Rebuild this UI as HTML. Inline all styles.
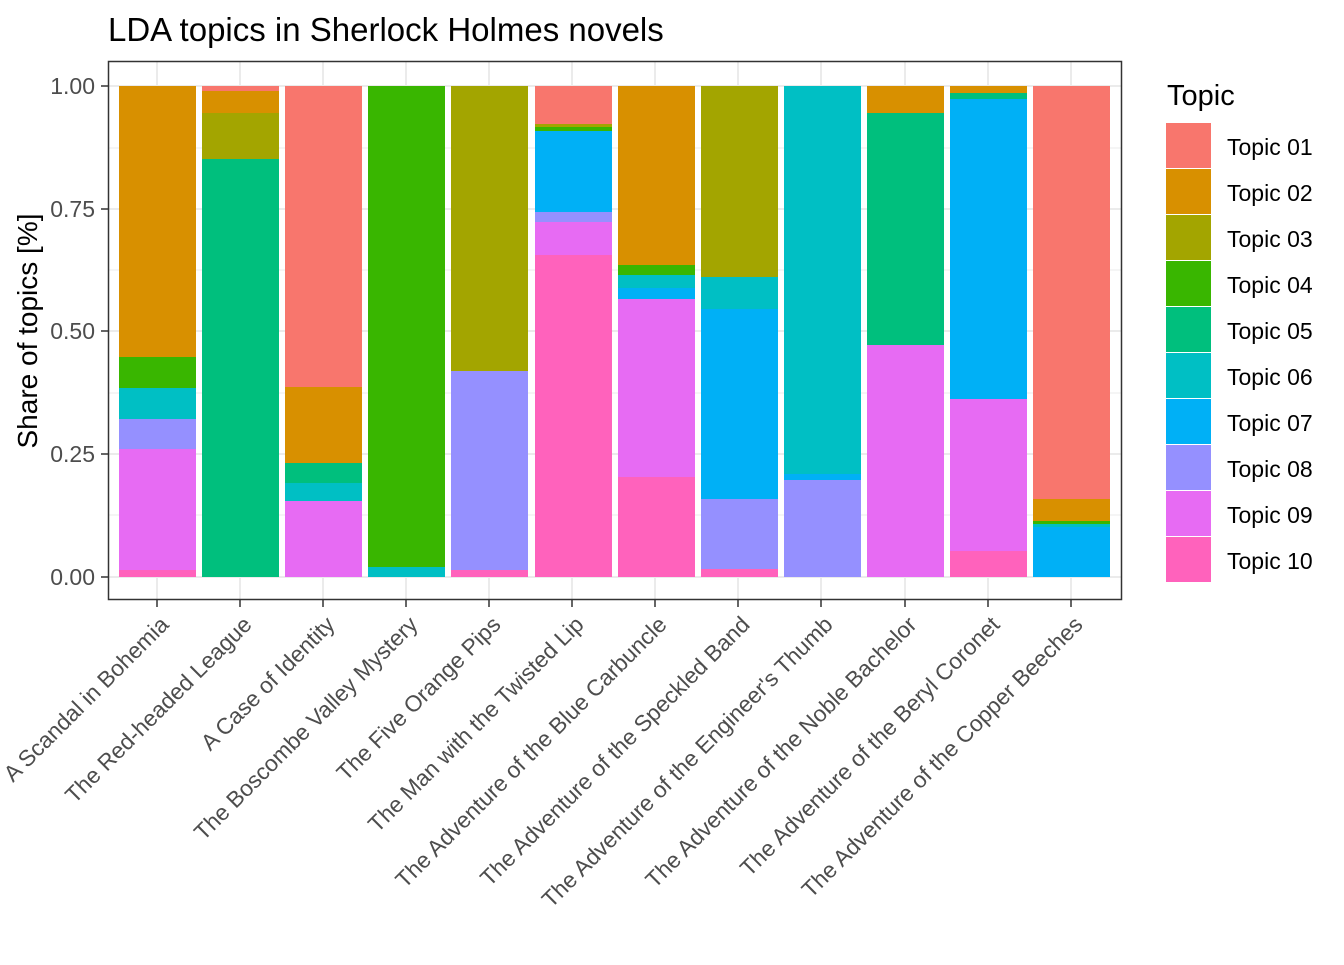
<!DOCTYPE html>
<html><head><meta charset="utf-8"><style>body{margin:0;background:#fff}</style></head><body>
<svg width="1344" height="960" xmlns="http://www.w3.org/2000/svg" font-family="Liberation Sans, Arial, sans-serif">
<rect width="1344" height="960" fill="#fff"/>
<text x="108" y="41" font-size="33" fill="#000">LDA topics in Sherlock Holmes novels</text>
<g stroke="#ebebeb" stroke-width="1">
<line x1="108" x2="1122" y1="148" y2="148"/><line x1="108" x2="1122" y1="270" y2="270"/><line x1="108" x2="1122" y1="393" y2="393"/><line x1="108" x2="1122" y1="515" y2="515"/>
</g>
<g stroke="#ebebeb" stroke-width="2">
<line x1="108" x2="1122" y1="86" y2="86"/><line x1="108" x2="1122" y1="209" y2="209"/><line x1="108" x2="1122" y1="331" y2="331"/><line x1="108" x2="1122" y1="454" y2="454"/><line x1="108" x2="1122" y1="577" y2="577"/>
<line x1="157" x2="157" y1="61" y2="600"/><line x1="240" x2="240" y1="61" y2="600"/><line x1="323" x2="323" y1="61" y2="600"/><line x1="406" x2="406" y1="61" y2="600"/><line x1="489" x2="489" y1="61" y2="600"/><line x1="572" x2="572" y1="61" y2="600"/><line x1="655" x2="655" y1="61" y2="600"/><line x1="738" x2="738" y1="61" y2="600"/><line x1="821" x2="821" y1="61" y2="600"/><line x1="905" x2="905" y1="61" y2="600"/><line x1="988" x2="988" y1="61" y2="600"/><line x1="1071" x2="1071" y1="61" y2="600"/>
</g>
<g id="bars">
<rect x="119" width="77" y="86" height="271" fill="#D89000"/><rect x="119" width="77" y="357" height="31" fill="#39B600"/><rect x="119" width="77" y="388" height="31" fill="#00BFC4"/><rect x="119" width="77" y="419" height="30" fill="#9590FF"/><rect x="119" width="77" y="449" height="121" fill="#E76BF3"/><rect x="119" width="77" y="570" height="7" fill="#FF62BC"/>
<rect x="202" width="77" y="86" height="5" fill="#F8766D"/><rect x="202" width="77" y="91" height="22" fill="#D89000"/><rect x="202" width="77" y="113" height="46" fill="#A3A500"/><rect x="202" width="77" y="159" height="418" fill="#00BF7D"/>
<rect x="285" width="77" y="86" height="301" fill="#F8766D"/><rect x="285" width="77" y="387" height="76" fill="#D89000"/><rect x="285" width="77" y="463" height="20" fill="#00BF7D"/><rect x="285" width="77" y="483" height="18" fill="#00BFC4"/><rect x="285" width="77" y="501" height="76" fill="#E76BF3"/>
<rect x="368" width="77" y="86" height="481" fill="#39B600"/><rect x="368" width="77" y="567" height="10" fill="#00BFC4"/>
<rect x="451" width="77" y="86" height="285" fill="#A3A500"/><rect x="451" width="77" y="371" height="199" fill="#9590FF"/><rect x="451" width="77" y="570" height="7" fill="#FF62BC"/>
<rect x="535" width="77" y="86" height="38" fill="#F8766D"/><rect x="535" width="77" y="124" height="3" fill="#A3A500"/><rect x="535" width="77" y="127" height="4" fill="#39B600"/><rect x="535" width="77" y="131" height="81" fill="#00B0F6"/><rect x="535" width="77" y="212" height="10" fill="#9590FF"/><rect x="535" width="77" y="222" height="33" fill="#E76BF3"/><rect x="535" width="77" y="255" height="322" fill="#FF62BC"/>
<rect x="618" width="77" y="86" height="179" fill="#D89000"/><rect x="618" width="77" y="265" height="10" fill="#39B600"/><rect x="618" width="77" y="275" height="13" fill="#00BFC4"/><rect x="618" width="77" y="288" height="11" fill="#00B0F6"/><rect x="618" width="77" y="299" height="178" fill="#E76BF3"/><rect x="618" width="77" y="477" height="100" fill="#FF62BC"/>
<rect x="701" width="77" y="86" height="191" fill="#A3A500"/><rect x="701" width="77" y="277" height="32" fill="#00BFC4"/><rect x="701" width="77" y="309" height="190" fill="#00B0F6"/><rect x="701" width="77" y="499" height="70" fill="#9590FF"/><rect x="701" width="77" y="569" height="8" fill="#FF62BC"/>
<rect x="784" width="77" y="86" height="388" fill="#00BFC4"/><rect x="784" width="77" y="474" height="6" fill="#00B0F6"/><rect x="784" width="77" y="480" height="97" fill="#9590FF"/>
<rect x="867" width="77" y="86" height="27" fill="#D89000"/><rect x="867" width="77" y="113" height="232" fill="#00BF7D"/><rect x="867" width="77" y="345" height="232" fill="#E76BF3"/>
<rect x="950" width="77" y="86" height="7" fill="#D89000"/><rect x="950" width="77" y="93" height="6" fill="#00BF7D"/><rect x="950" width="77" y="99" height="300" fill="#00B0F6"/><rect x="950" width="77" y="399" height="152" fill="#E76BF3"/><rect x="950" width="77" y="551" height="26" fill="#FF62BC"/>
<rect x="1033" width="77" y="86" height="413" fill="#F8766D"/><rect x="1033" width="77" y="499" height="22" fill="#D89000"/><rect x="1033" width="77" y="521" height="3" fill="#39B600"/><rect x="1033" width="77" y="524" height="3" fill="#00BFC4"/><rect x="1033" width="77" y="527" height="50" fill="#00B0F6"/>
</g>
<rect x="108.5" y="61.5" width="1013" height="538" fill="none" stroke="#333" stroke-width="1.5"/>
<g stroke="#333" stroke-width="1.5">
<line x1="101" x2="108" y1="86" y2="86"/><line x1="101" x2="108" y1="209" y2="209"/><line x1="101" x2="108" y1="331" y2="331"/><line x1="101" x2="108" y1="454" y2="454"/><line x1="101" x2="108" y1="577" y2="577"/>
<line x1="157" x2="157" y1="600" y2="607"/><line x1="240" x2="240" y1="600" y2="607"/><line x1="323" x2="323" y1="600" y2="607"/><line x1="406" x2="406" y1="600" y2="607"/><line x1="489" x2="489" y1="600" y2="607"/><line x1="572" x2="572" y1="600" y2="607"/><line x1="655" x2="655" y1="600" y2="607"/><line x1="738" x2="738" y1="600" y2="607"/><line x1="821" x2="821" y1="600" y2="607"/><line x1="905" x2="905" y1="600" y2="607"/><line x1="988" x2="988" y1="600" y2="607"/><line x1="1071" x2="1071" y1="600" y2="607"/>
</g>
<g font-size="23" fill="#4d4d4d" text-anchor="end">
<text x="95" y="94">1.00</text><text x="95" y="217">0.75</text><text x="95" y="339">0.50</text><text x="95" y="462">0.25</text><text x="95" y="585">0.00</text>
</g>
<text transform="translate(37,331) rotate(-90)" font-size="28" text-anchor="middle" fill="#000">Share of topics [%]</text>
<g font-size="22.7" fill="#4d4d4d" text-anchor="end">
<text transform="translate(170,626) rotate(-45)">A Scandal in Bohemia</text>
<text transform="translate(253,626) rotate(-45)">The Red-headed League</text>
<text transform="translate(336,626) rotate(-45)">A Case of Identity</text>
<text transform="translate(419,626) rotate(-45)">The Boscombe Valley Mystery</text>
<text transform="translate(502,626) rotate(-45)">The Five Orange Pips</text>
<text transform="translate(585,626) rotate(-45)">The Man with the Twisted Lip</text>
<text transform="translate(668,626) rotate(-45)">The Adventure of the Blue Carbuncle</text>
<text transform="translate(751,626) rotate(-45)">The Adventure of the Speckled Band</text>
<text transform="translate(834,626) rotate(-45)">The Adventure of the Engineer's Thumb</text>
<text transform="translate(918,626) rotate(-45)">The Adventure of the Noble Bachelor</text>
<text transform="translate(1001,626) rotate(-45)">The Adventure of the Beryl Coronet</text>
<text transform="translate(1084,626) rotate(-45)">The Adventure of the Copper Beeches</text>
</g>
<text x="1167" y="105" font-size="29" fill="#000">Topic</text>
<g>
<rect x="1166" y="123" width="45" height="45" fill="#F8766D"/><rect x="1166" y="169" width="45" height="45" fill="#D89000"/><rect x="1166" y="215" width="45" height="45" fill="#A3A500"/><rect x="1166" y="261" width="45" height="45" fill="#39B600"/><rect x="1166" y="307" width="45" height="45" fill="#00BF7D"/><rect x="1166" y="353" width="45" height="45" fill="#00BFC4"/><rect x="1166" y="399" width="45" height="45" fill="#00B0F6"/><rect x="1166" y="445" width="45" height="45" fill="#9590FF"/><rect x="1166" y="491" width="45" height="45" fill="#E76BF3"/><rect x="1166" y="537" width="45" height="45" fill="#FF62BC"/>
</g>
<g font-size="23" fill="#000">
<text x="1227" y="155">Topic 01</text><text x="1227" y="201">Topic 02</text><text x="1227" y="247">Topic 03</text><text x="1227" y="293">Topic 04</text><text x="1227" y="339">Topic 05</text><text x="1227" y="385">Topic 06</text><text x="1227" y="431">Topic 07</text><text x="1227" y="477">Topic 08</text><text x="1227" y="523">Topic 09</text><text x="1227" y="569">Topic 10</text>
</g>
</svg>
</body></html>
